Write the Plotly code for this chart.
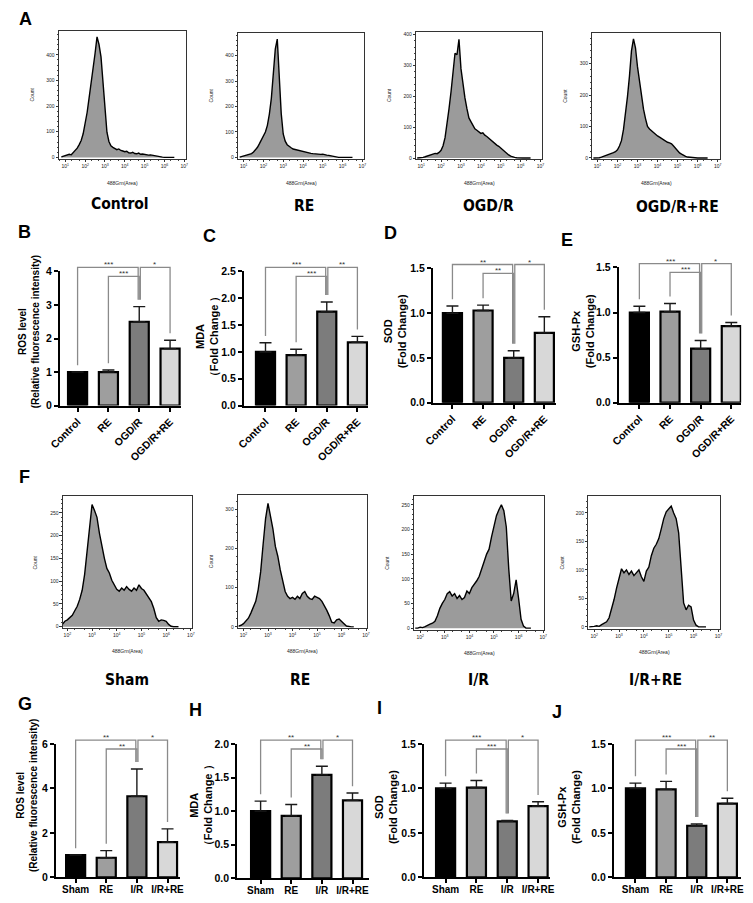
import plotly.graph_objects as go

W, H = 753, 903

# ---------------- data ----------------
# flow-cytometry histograms: bin centres in log10(488Grn area) and counts
bins_cell = [0.8, 0.9, 1.0, 1.1, 1.2, 1.3, 1.4, 1.5, 1.6, 1.7, 1.8, 1.9,
             2.0, 2.1, 2.2, 2.3, 2.4, 2.5, 2.6, 2.7, 2.8, 2.9,
             3.0, 3.1, 3.2, 3.3, 3.4, 3.5, 3.6, 3.7, 3.8, 3.9,
             4.0, 4.1, 4.2, 4.3, 4.4, 4.5, 4.6, 4.7, 4.8, 4.9,
             5.0, 5.1, 5.2, 5.3, 5.4, 5.5, 5.6, 5.7, 5.8, 5.9,
             6.0, 6.1, 6.2, 6.3, 6.4, 6.5]
hist_control = [2, 4, 6, 9, 12, 10, 18, 24, 36, 50, 66, 92,
                128, 175, 232, 285, 348, 405, 470, 440, 392, 300,
                185, 98, 62, 45, 39, 34, 30, 33, 27, 25,
                22, 24, 18, 17, 20, 15, 14, 17, 12, 13,
                11, 12, 9, 10, 8, 6, 5, 3, 2, 1,
                0, 0, 0, 0, 0, 0]
hist_re_cell = [1, 3, 4, 6, 9, 12, 15, 21, 30, 40, 54, 68,
                84, 100, 126, 170, 232, 318, 425, 465, 335, 172,
                92, 64, 50, 43, 38, 33, 31, 28, 26, 24,
                21, 20, 18, 18, 16, 15, 14, 15, 13, 12,
                13, 10, 9, 8, 6, 4, 3, 2, 0, 0,
                0, 0, 0, 0, 0, 0]
hist_ogdr = [0, 0, 0, 2, 4, 6, 8, 10, 12, 15, 14, 18,
             25, 40, 66, 110, 160, 215, 290, 340, 335, 385,
             290, 240, 195, 160, 130, 118, 105, 95, 90, 84,
             80, 82, 74, 70, 64, 60, 52, 48, 42, 38,
             32, 28, 22, 16, 10, 6, 3, 2, 1, 0,
             0, 0, 0, 0, 0, 0]
hist_ogdr_re = [0, 0, 0, 1, 3, 5, 7, 9, 12, 15, 17, 20,
                26, 38, 55, 90, 140, 195, 260, 340, 378, 350,
                290, 240, 195, 155, 125, 100, 92, 86, 80, 76,
                70, 66, 62, 57, 52, 50, 48, 45, 38, 30,
                22, 16, 12, 8, 5, 3, 2, 1, 0, 0,
                0, 0, 0, 0, 0, 0]

bins_rat = [1.8, 1.9,
            2.0, 2.1, 2.2, 2.3, 2.4, 2.5, 2.6, 2.7, 2.8, 2.9,
            3.0, 3.1, 3.2, 3.3, 3.4, 3.5, 3.6, 3.7, 3.8, 3.9,
            4.0, 4.1, 4.2, 4.3, 4.4, 4.5, 4.6, 4.7, 4.8, 4.9,
            5.0, 5.1, 5.2, 5.3, 5.4, 5.5, 5.6, 5.7, 5.8, 5.9,
            6.0, 6.1, 6.2, 6.3, 6.4, 6.5]
hist_sham = [5, 12,
             15, 20, 25, 35, 45, 60, 80, 115, 165, 230,
             268, 255, 240, 205, 175, 150, 128, 118, 102, 92,
             82, 78, 85, 80, 88, 82, 78, 85, 80, 92,
             84, 80, 72, 65, 55, 40, 20, 12, 15, 14,
             12, 5, 1, 0, 0, 0]
hist_re_rat = [2, 4,
               8, 14, 22, 35, 48, 65, 95, 140, 210, 275,
               315, 285, 250, 205, 180, 145, 120, 90, 78, 72,
               75, 70, 78, 72, 85, 90, 78, 72, 70, 78,
               75, 72, 65, 55, 42, 28, 12, 10, 18, 20,
               15, 8, 2, 0, 0, 0]
hist_ir = [0, 0,
           2, 1, 3, 6, 8, 10, 14, 25, 40, 50,
           58, 70, 74, 65, 70, 60, 66, 58, 62, 75,
           70, 82, 88, 96, 105, 118, 135, 150, 160, 185,
           210, 228, 240, 250, 238, 205, 120, 55, 70, 98,
           60, 18, 4, 0, 0, 0]
hist_ir_re = [0, 0,
              1, 2, 1, 4, 6, 9, 16, 30, 48, 68,
              88, 102, 95, 100, 92, 98, 90, 96, 100, 88,
              80, 98, 105, 125, 138, 145, 155, 172, 190, 202,
              208, 212, 200, 190, 165, 95, 42, 30, 38, 35,
              12, 3, 0, 0, 0, 0]

decades_cell = [1, 2, 3, 4, 5, 6, 7]
decades_rat = [2, 3, 4, 5, 6, 7]

# bar charts
cats_cell = ["Control", "RE", "OGD/R", "OGD/R+RE"]
cats_rat = ["Sham", "RE", "I/R", "I/R+RE"]

ros_cell = [1.0, 1.0, 2.5, 1.7]
ros_cell_err = [0.0, 0.06, 0.45, 0.25]
mda_cell = [1.0, 0.94, 1.75, 1.18]
mda_cell_err = [0.17, 0.11, 0.18, 0.11]
sod_cell = [1.0, 1.03, 0.5, 0.78]
sod_cell_err = [0.08, 0.06, 0.08, 0.18]
gsh_cell = [1.0, 1.01, 0.6, 0.85]
gsh_cell_err = [0.07, 0.09, 0.09, 0.04]

ros_rat = [1.0, 0.88, 3.65, 1.58]
ros_rat_err = [0.0, 0.32, 1.23, 0.6]
mda_rat = [1.0, 0.93, 1.54, 1.16]
mda_rat_err = [0.15, 0.17, 0.13, 0.11]
sod_rat = [1.0, 1.01, 0.63, 0.8]
sod_rat_err = [0.06, 0.08, 0.01, 0.05]
gsh_rat = [1.0, 0.99, 0.58, 0.83]
gsh_rat_err = [0.06, 0.09, 0.02, 0.06]

sig_B = [(0, 2, "***"), (1, 2, "***"), (2, 3, "*")]
sig_C = [(0, 2, "***"), (1, 2, "***"), (2, 3, "**")]
sig_D = [(0, 2, "**"), (1, 2, "**"), (2, 3, "*")]
sig_E = [(0, 2, "***"), (1, 2, "***"), (2, 3, "*")]
sig_G = [(0, 2, "**"), (1, 2, "**"), (2, 3, "*")]
sig_H = [(0, 2, "**"), (1, 2, "**"), (2, 3, "*")]
sig_I = [(0, 2, "***"), (1, 2, "***"), (2, 3, "*")]
sig_J = [(0, 2, "***"), (1, 2, "***"), (2, 3, "**")]

BAR_COLORS = ["#000000", "#9e9e9e", "#7c7c7c", "#d8d8d8"]

# ---------------- layout helpers ----------------
FONT = "Liberation Sans, Arial, sans-serif"
NARROW = "DejaVu Sans Condensed, Liberation Sans Narrow, Arial Narrow, Liberation Sans, sans-serif"


def fx(p):
    return p / W


def fy(p):
    return 1 - p / H


def axkey(kind, i):
    return kind + "axis" + ("" if i == 1 else str(i))


def ref(kind, i):
    return kind + ("" if i == 1 else str(i))


fig = go.Figure()
layout = dict(width=W, height=H, autosize=False,
              margin=dict(l=0, r=0, t=0, b=0),
              paper_bgcolor="white", plot_bgcolor="rgba(0,0,0,0)",
              showlegend=False, font=dict(family=FONT, color="black"))
ann = []

# ---------------- histograms ----------------
hist_panels = [
    dict(b=bins_cell, c=hist_control, box=(48, 178, 25, 155), yr=[-6, 494], dt=100, mdt=20,
         xr=[0.68, 7.1], dec=decades_cell, label="Control", lab=(110, 201)),
    dict(b=bins_cell, c=hist_re_cell, box=(231, 360, 27, 155), yr=[-6, 490], dt=100, mdt=20,
         xr=[0.72, 7.1], dec=decades_cell, label="RE", lab=(298, 203)),
    dict(b=bins_cell, c=hist_ogdr, box=(413, 542, 26, 155), yr=[-3, 410], dt=100, mdt=20,
         xr=[0.75, 7.1], dec=decades_cell, label="OGD/R", lab=(487, 203)),
    dict(b=bins_cell, c=hist_ogdr_re, box=(593, 723, 27, 155), yr=[-3, 398], dt=100, mdt=20,
         xr=[0.75, 7.1], dec=decades_cell, label="OGD/R+RE", lab=(680, 204)),
    dict(b=bins_rat, c=hist_sham, box=(52, 184, 497, 630), yr=[-2, 286], dt=50, mdt=10,
         xr=[1.82, 7.05], dec=decades_rat, label="Sham", lab=(118, 683)),
    dict(b=bins_rat, c=hist_re_rat, box=(231, 363, 496, 630), yr=[-2, 335], dt=100, mdt=20,
         xr=[1.78, 7.05], dec=decades_rat, label="RE", lab=(294, 683)),
    dict(b=bins_rat, c=hist_ir, box=(411, 544, 497, 632), yr=[-3, 267], dt=50, mdt=10,
         xr=[1.76, 7.05], dec=decades_rat, label="I/R", lab=(477, 683)),
    dict(b=bins_rat, c=hist_ir_re, box=(589, 723, 497, 631), yr=[-3, 229], dt=50, mdt=10,
         xr=[1.77, 7.05], dec=decades_rat, label="I/R+RE", lab=(657, 683)),
]

tiny = dict(family=FONT, size=5, color="#222")
for k, hp in enumerate(hist_panels):
    i = k + 1
    x0, x1, yt, yb = hp["box"]
    fig.add_trace(go.Scatter(
        x=[10 ** v for v in hp["b"]], y=hp["c"], mode="lines", fill="tozeroy",
        fillcolor="#9b9b9b", line=dict(color="black", width=1.4),
        xaxis=ref("x", i), yaxis=ref("y", i), hoverinfo="skip"))
    layout[axkey("x", i)] = dict(
        domain=[fx(x0), fx(x1)], anchor=ref("y", i), type="log", range=hp["xr"],
        showline=True, mirror=True, linecolor="#333", linewidth=0.8,
        ticks="outside", ticklen=2.5, tickwidth=0.6, tickcolor="#333",
        tickvals=[10 ** e for e in hp["dec"]],
        ticktext=["10<sup>%d</sup>" % e for e in hp["dec"]],
        tickfont=tiny, showgrid=False, zeroline=False,
        minor=dict(ticks="outside", ticklen=1.2, tickwidth=0.5, tickcolor="#444"))
    layout[axkey("y", i)] = dict(
        domain=[fy(yb), fy(yt)], anchor=ref("x", i), range=hp["yr"],
        showline=True, mirror=True, linecolor="#333", linewidth=0.8,
        ticks="outside", ticklen=2.5, tickwidth=0.6, tickcolor="#333",
        tick0=0, dtick=hp["dt"], tickfont=tiny, showgrid=False, zeroline=False,
        minor=dict(ticks="outside", dtick=hp["mdt"], ticklen=1.2, tickwidth=0.5, tickcolor="#444"))
    ann.append(dict(text="Count", x=fx(x0 - 28), y=fy((yt + yb) / 2), xref="paper", yref="paper",
                    textangle=-90, showarrow=False, font=tiny, xanchor="center", yanchor="middle"))
    ann.append(dict(text="488Grn(Area)", x=fx((x0 + x1) / 2), y=fy(yb + 24), xref="paper", yref="paper",
                    showarrow=False, font=tiny, xanchor="center", yanchor="middle"))
    ann.append(dict(text=hp["label"], x=fx(hp["lab"][0]), y=fy(hp["lab"][1]), xref="paper", yref="paper",
                    showarrow=False, xanchor="center", yanchor="middle",
                    font=dict(family=NARROW, size=15.5, color="black", weight="bold")))

# ---------------- bar charts ----------------
bar_panels = [
    dict(v=ros_cell, e=ros_cell_err, cats=cats_cell, sig=sig_B, ymax=4, dt=1, fmt=".0f",
         title="ROS level<br>(Relative fluorescence intensity)", tsize=10, tpos=(17, 330),
         ax=49, c0=67, sp=31.5, xend=173, y0=405, ytop=269, rot=True),
    dict(v=mda_cell, e=mda_cell_err, cats=cats_cell, sig=sig_C, ymax=2.5, dt=0.5, fmt=".1f",
         title="MDA<br>（Fold Change ）", tsize=11, tpos=(200, 335),
         ax=237, c0=259, sp=31.3, xend=364, y0=405, ytop=269, rot=True),
    dict(v=sod_cell, e=sod_cell_err, cats=cats_cell, sig=sig_D, ymax=1.5, dt=0.5, fmt=".1f",
         title="SOD<br>(Fold Change)", tsize=11, tpos=(391, 330),
         ax=430, c0=450, sp=31.3, xend=556, y0=402, ytop=266, rot=True),
    dict(v=gsh_cell, e=gsh_cell_err, cats=cats_cell, sig=sig_E, ymax=1.5, dt=0.5, fmt=".1f",
         title="GSH-Px<br>(Fold Change)", tsize=11, tpos=(583, 330),
         ax=620, c0=641, sp=31.3, xend=745, y0=402, ytop=265, rot=True),
    dict(v=ros_rat, e=ros_rat_err, cats=cats_rat, sig=sig_G, ymax=6, dt=2, fmt=".0f",
         title="ROS level<br>(Relative fluorescence intensity)", tsize=10, tpos=(16, 800),
         ax=45, c0=65, sp=31.3, xend=172, y0=883, ytop=748, rot=False),
    dict(v=mda_rat, e=mda_rat_err, cats=cats_rat, sig=sig_H, ymax=2.0, dt=0.5, fmt=".1f",
         title="MDA<br>（Fold Change ）", tsize=11, tpos=(193, 810),
         ax=230, c0=254, sp=31.3, xend=365, y0=884, ytop=748, rot=False),
    dict(v=sod_rat, e=sod_rat_err, cats=cats_rat, sig=sig_I, ymax=1.5, dt=0.5, fmt=".1f",
         title="SOD<br>(Fold Change)", tsize=11, tpos=(382, 812),
         ax=421, c0=443, sp=31.5, xend=550, y0=883, ytop=748, rot=False),
    dict(v=gsh_rat, e=gsh_rat_err, cats=cats_rat, sig=sig_J, ymax=1.5, dt=0.5, fmt=".1f",
         title="GSH-Px<br>(Fold Change)", tsize=11, tpos=(569, 812),
         ax=615, c0=637, sp=31.3, xend=745, y0=883, ytop=748, rot=False),
]

BOLD = dict(family=FONT, color="black", weight="bold")
EXT = 18  # px of room above the axis top for brackets
for k, bp in enumerate(bar_panels):
    i = 9 + k
    j = 17 + k
    sp = bp["sp"]
    r0 = -(bp["c0"] - bp["ax"]) / sp
    r1 = 3 + (bp["xend"] - bp["c0"] - 3 * sp) / sp
    ppu = (bp["y0"] - bp["ytop"]) / bp["ymax"]
    xs = list(range(len(bp["v"])))
    fig.add_trace(go.Bar(
        x=xs, y=bp["v"], width=19.5 / sp,
        marker=dict(color=BAR_COLORS, line=dict(color="black", width=2.2)),
        error_y=dict(type="data", symmetric=False, array=bp["e"], arrayminus=[0] * len(xs),
                     color="#1a1a1a", thickness=1.4, width=6),
        xaxis=ref("x", i), yaxis=ref("y", i), hoverinfo="skip"))
    layout[axkey("x", i)] = dict(
        domain=[fx(bp["ax"]), fx(bp["xend"])], anchor=ref("y", i), range=[r0, r1],
        tickvals=xs, ticktext=bp["cats"], tickangle=-45 if bp["rot"] else 0,
        showline=True, linecolor="black", linewidth=2, ticks="outside", ticklen=4,
        tickwidth=1.5, tickcolor="black", showgrid=False, zeroline=False,
        ticklabelstandoff=0 if bp["rot"] else -2,
        tickfont=dict(BOLD, size=10.5 if bp["rot"] else 10))
    layout[axkey("y", i)] = dict(
        domain=[fy(bp["y0"]), fy(bp["ytop"])], anchor=ref("x", i), range=[0, bp["ymax"]],
        tick0=0, dtick=bp["dt"], tickformat=bp["fmt"],
        showline=True, linecolor="black", linewidth=2, ticks="outside", ticklen=4,
        tickwidth=1.5, tickcolor="black", showgrid=False, zeroline=False,
        tickfont=dict(BOLD, size=10.5))
    # invisible axis sharing the same scale, taller, to hold the significance brackets
    layout[axkey("y", j)] = dict(
        domain=[fy(bp["y0"]), fy(bp["ytop"] - EXT)], anchor=ref("x", i),
        range=[0, bp["ymax"] * (bp["y0"] - bp["ytop"] + EXT) / (bp["y0"] - bp["ytop"])],
        visible=False, showgrid=False, zeroline=False)
    tops = [v + e for v, e in zip(bp["v"], bp["e"])]
    gap = 7 / ppu
    for (a, b, stars) in bp["sig"]:
        tier = 0 if (a == 0 or b == len(xs) - 1) else 1
        level = bp["ymax"] + (4 if tier == 0 else -5) / ppu
        dxa = 0.035 if a == 2 else 0.0
        dxb = -0.035 if (b == 2 and a == 0) else 0.0
        fig.add_trace(go.Scatter(
            x=[a + dxa, a + dxa, b + dxb, b + dxb],
            y=[tops[a] + gap, level, level, tops[b] + gap],
            mode="lines", line=dict(color="#8a8a8a", width=1.3),
            xaxis=ref("x", i), yaxis=ref("y", j), hoverinfo="skip"))
        ann.append(dict(text=stars, x=(a + b) / 2, y=level, xref=ref("x", i), yref=ref("y", j),
                        showarrow=False, xanchor="center", yanchor="bottom", yshift=-4,
                        font=dict(family=FONT, size=8, color="#333")))
    ann.append(dict(text=bp["title"], x=fx(bp["tpos"][0]), y=fy(bp["tpos"][1]),
                    xref="paper", yref="paper", textangle=-90, showarrow=False,
                    xanchor="center", yanchor="middle", font=dict(BOLD, size=bp["tsize"])))

# ---------------- panel letters ----------------
letters = [("A", 14, 13), ("B", 13, 229), ("C", 202, 233), ("D", 387, 230), ("E", 567, 237),
           ("F", 13, 477), ("G", 13, 707), ("H", 187, 713), ("I", 375, 711), ("J", 557, 716)]
for t, lx, ly in letters:
    ann.append(dict(text=t, x=fx(lx), y=fy(ly), xref="paper", yref="paper", showarrow=False,
                    xanchor="center", yanchor="middle", font=dict(BOLD, size=18)))

layout["annotations"] = ann
fig.update_layout(**layout)
fig.write_html("out.html", config={"displayModeBar": False},
               post_script="document.body.style.margin='0';document.body.style.overflow='hidden';")
